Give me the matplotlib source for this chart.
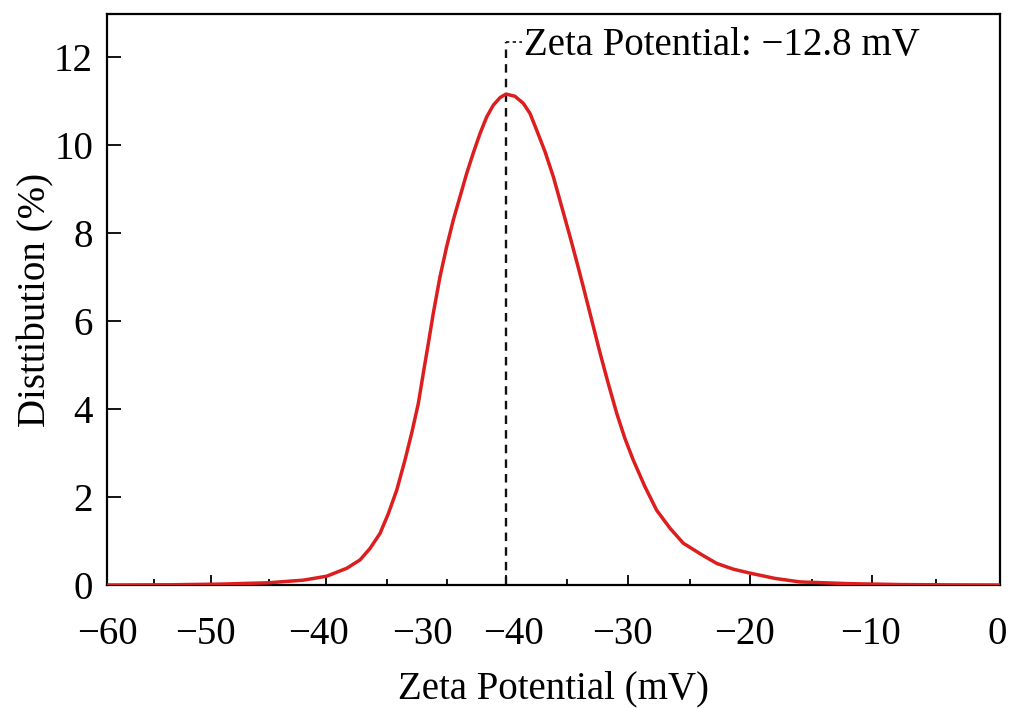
import matplotlib
matplotlib.use("Agg")
import matplotlib.pyplot as plt

# ---- data ----
zeta_x = [-60, -55.77, -52.41, -49.18, -46.81, -45.24, -43.89, -43.0, -42.33, -41.66,
          -41.10, -40.53, -39.98, -39.53, -39.08, -38.75, -38.41, -38.08, -37.63, -37.18,
          -36.73, -36.28, -35.83, -35.39, -34.94, -34.49, -34.04, -33.59, -33.19, -32.59,
          -32.03, -31.58, -31.13, -30.57, -30.01, -29.45, -28.89, -28.44, -28.00, -27.43,
          -26.87, -26.32, -25.75, -25.20, -24.64, -23.85, -23.07, -22.17, -21.28, -20.0,
          -19.03, -17.92, -16.80, -15.12, -13.44, -10.08, -6.72, -3.36, 0]
dist_y = [0.0, 0.005, 0.02, 0.05, 0.11, 0.20, 0.38, 0.57, 0.83, 1.17,
          1.62, 2.16, 2.84, 3.45, 4.13, 4.81, 5.49, 6.17, 7.00, 7.69,
          8.30, 8.83, 9.36, 9.82, 10.26, 10.64, 10.91, 11.08, 11.16, 11.11,
          10.95, 10.72, 10.34, 9.85, 9.28, 8.60, 7.92, 7.35, 6.78, 6.02,
          5.27, 4.58, 3.90, 3.33, 2.84, 2.23, 1.70, 1.29, 0.95, 0.68,
          0.49, 0.36, 0.27, 0.15, 0.07, 0.03, 0.01, 0.003, 0.0]

peak_x = -33.19
annot_text = "Zeta Potential: \u221212.8 mV"

x_label_pos = [-60.0, -53.4, -45.8, -38.8, -32.7, -25.4, -17.2, -8.7, -0.2]
x_label_txt = ["\u221260", "\u221250", "\u221240", "\u221230", "\u221240",
               "\u221230", "\u221220", "\u221210", "0"]
x_long_ticks = [-53.01, -45.29, -33.19, -25.0, -16.80, -8.60]
x_short_ticks = [-56.84, -49.12, -41.19, -37.16, -29.09, -20.83, -12.63, -4.30]
y_ticks = [0, 2, 4, 6, 8, 10, 12]

# ---- figure ----
plt.rcParams['font.family'] = ['Liberation Serif', 'DejaVu Serif']
FS = 28

fig = plt.figure(figsize=(10.09, 7.08), dpi=100)
ax = fig.add_axes([107/1009, 1 - 585/708, (1000-107)/1009, (585-14)/708])

ax.plot(zeta_x, dist_y, color='#dc1e1e', lw=2.5, zorder=3,
        solid_capstyle='round', solid_joinstyle='round')

ax.set_xlim(-60, 0)
ax.set_ylim(0, 12.98)

# dashed marker line + annotation
top_y = 12.34
ax.plot([peak_x, peak_x], [0, top_y], color='#111111', lw=1.7, ls=(0, (3.6, 2.6)), zorder=2)
ax.plot([peak_x, peak_x + 1.1], [top_y, top_y], color='#111111', lw=1.2, ls=(0, (2, 2)), zorder=2)
ax.text(peak_x + 1.2, top_y - 0.08, annot_text, fontsize=FS, va='center', ha='left')

# ticks
ax.set_xticks(x_long_ticks)
ax.set_xticklabels([])
ax.set_xticks(x_short_ticks, minor=True)
ax.tick_params(axis='x', which='major', direction='in', length=7, width=1.3, top=False)
ax.tick_params(axis='x', which='minor', direction='in', length=4, width=1.3, top=False)

sec = ax.secondary_xaxis('bottom')
sec.set_xticks(x_label_pos, x_label_txt)
sec.tick_params(axis='x', length=0, pad=22, labelsize=FS)
for s in sec.spines.values():
    s.set_visible(False)

ax.set_yticks(y_ticks)
ax.tick_params(axis='y', which='major', direction='in', length=10, width=1.3,
               labelsize=FS, pad=10, right=False)

for s in ax.spines.values():
    s.set_linewidth(1.6)

ax.set_xlabel("Zeta Potential (mV)", fontsize=FS, labelpad=58)
ax.set_ylabel("Disttibution (%)", fontsize=FS, labelpad=0)

fig.savefig("out.png", dpi=100)
